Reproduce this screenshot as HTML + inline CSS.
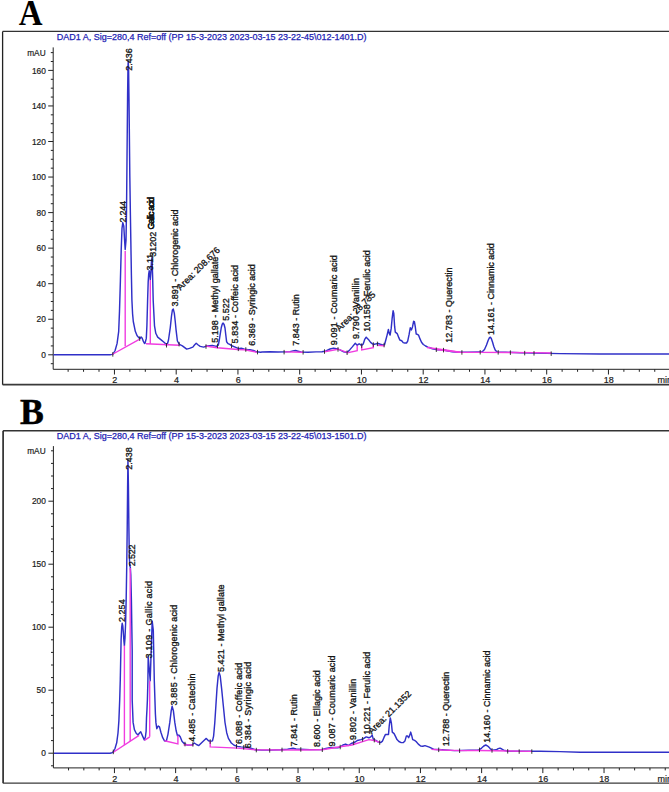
<!DOCTYPE html>
<html><head><meta charset="utf-8"><style>
html,body{margin:0;padding:0;background:#fff;width:669px;height:792px;overflow:hidden}
svg{position:absolute;left:0;top:0}
.ttl{font-family:"Liberation Sans",sans-serif;font-size:9px;fill:#2222b4;stroke:#2222b4;stroke-width:0.25}
.lab{font-family:"Liberation Sans",sans-serif;font-size:9px;fill:#1a1a1a;stroke:#1a1a1a;stroke-width:0.2}
.cur{fill:none;stroke:#3030c8;stroke-width:1.45;stroke-linejoin:round}
.mag{fill:none;stroke:#f03ce0;stroke-width:1.4}
.tk{stroke:#222;stroke-width:0.9}
.pl{font-family:"Liberation Sans",sans-serif;font-size:9px;fill:#141414;stroke:#141414;stroke-width:0.32}
.big{font-family:"Liberation Serif",serif;font-weight:bold;font-size:36px;fill:#000}
</style></head><body>
<svg width="669" height="792" viewBox="0 0 669 792">
<text transform="translate(18.8,24.7) scale(0.915,1)" class="big">A</text>
<text transform="translate(19.9,423.6) scale(0.99,1)" class="big" stroke="#000" stroke-width="0.5">B</text>
<line x1="2.6" y1="31.4" x2="674" y2="31.4" stroke="#333" stroke-width="1.4"/>
<line x1="2.6" y1="31.4" x2="2.6" y2="384.7" stroke="#222" stroke-width="1.3"/>
<line x1="2.6" y1="384.7" x2="674" y2="384.7" stroke="#3a3a3a" stroke-width="1.8"/>
<text x="56.7" y="39.7" class="ttl">DAD1 A, Sig=280,4 Ref=off (PP 15-3-2023 2023-03-15 23-22-45\012-1401.D)</text>
<line x1="53.2" y1="47.4" x2="53.2" y2="369.3" stroke="#222" stroke-width="1"/>
<line x1="53.2" y1="369.3" x2="674" y2="369.3" stroke="#222" stroke-width="1"/>
<line x1="50.800000000000004" y1="363.69" x2="53.2" y2="363.69" stroke="#222" stroke-width="1"/>
<line x1="48.2" y1="354.8" x2="53.2" y2="354.8" stroke="#222" stroke-width="1"/>
<text transform="translate(45.9,358) scale(0.93,1)" class="lab" text-anchor="end">0</text>
<line x1="50.800000000000004" y1="345.91" x2="53.2" y2="345.91" stroke="#222" stroke-width="1"/>
<line x1="50.800000000000004" y1="337.03" x2="53.2" y2="337.03" stroke="#222" stroke-width="1"/>
<line x1="50.800000000000004" y1="328.14" x2="53.2" y2="328.14" stroke="#222" stroke-width="1"/>
<line x1="48.2" y1="319.25" x2="53.2" y2="319.25" stroke="#222" stroke-width="1"/>
<text transform="translate(45.9,322.45) scale(0.93,1)" class="lab" text-anchor="end">20</text>
<line x1="50.800000000000004" y1="310.36" x2="53.2" y2="310.36" stroke="#222" stroke-width="1"/>
<line x1="50.800000000000004" y1="301.48" x2="53.2" y2="301.48" stroke="#222" stroke-width="1"/>
<line x1="50.800000000000004" y1="292.59" x2="53.2" y2="292.59" stroke="#222" stroke-width="1"/>
<line x1="48.2" y1="283.7" x2="53.2" y2="283.7" stroke="#222" stroke-width="1"/>
<text transform="translate(45.9,286.9) scale(0.93,1)" class="lab" text-anchor="end">40</text>
<line x1="50.800000000000004" y1="274.81" x2="53.2" y2="274.81" stroke="#222" stroke-width="1"/>
<line x1="50.800000000000004" y1="265.93" x2="53.2" y2="265.93" stroke="#222" stroke-width="1"/>
<line x1="50.800000000000004" y1="257.04" x2="53.2" y2="257.04" stroke="#222" stroke-width="1"/>
<line x1="48.2" y1="248.15" x2="53.2" y2="248.15" stroke="#222" stroke-width="1"/>
<text transform="translate(45.9,251.35) scale(0.93,1)" class="lab" text-anchor="end">60</text>
<line x1="50.800000000000004" y1="239.26" x2="53.2" y2="239.26" stroke="#222" stroke-width="1"/>
<line x1="50.800000000000004" y1="230.38" x2="53.2" y2="230.38" stroke="#222" stroke-width="1"/>
<line x1="50.800000000000004" y1="221.49" x2="53.2" y2="221.49" stroke="#222" stroke-width="1"/>
<line x1="48.2" y1="212.6" x2="53.2" y2="212.6" stroke="#222" stroke-width="1"/>
<text transform="translate(45.9,215.8) scale(0.93,1)" class="lab" text-anchor="end">80</text>
<line x1="50.800000000000004" y1="203.71" x2="53.2" y2="203.71" stroke="#222" stroke-width="1"/>
<line x1="50.800000000000004" y1="194.83" x2="53.2" y2="194.83" stroke="#222" stroke-width="1"/>
<line x1="50.800000000000004" y1="185.94" x2="53.2" y2="185.94" stroke="#222" stroke-width="1"/>
<line x1="48.2" y1="177.05" x2="53.2" y2="177.05" stroke="#222" stroke-width="1"/>
<text transform="translate(45.9,180.25) scale(0.93,1)" class="lab" text-anchor="end">100</text>
<line x1="50.800000000000004" y1="168.16" x2="53.2" y2="168.16" stroke="#222" stroke-width="1"/>
<line x1="50.800000000000004" y1="159.28" x2="53.2" y2="159.28" stroke="#222" stroke-width="1"/>
<line x1="50.800000000000004" y1="150.39" x2="53.2" y2="150.39" stroke="#222" stroke-width="1"/>
<line x1="48.2" y1="141.5" x2="53.2" y2="141.5" stroke="#222" stroke-width="1"/>
<text transform="translate(45.9,144.7) scale(0.93,1)" class="lab" text-anchor="end">120</text>
<line x1="50.800000000000004" y1="132.61" x2="53.2" y2="132.61" stroke="#222" stroke-width="1"/>
<line x1="50.800000000000004" y1="123.72" x2="53.2" y2="123.72" stroke="#222" stroke-width="1"/>
<line x1="50.800000000000004" y1="114.84" x2="53.2" y2="114.84" stroke="#222" stroke-width="1"/>
<line x1="48.2" y1="105.95" x2="53.2" y2="105.95" stroke="#222" stroke-width="1"/>
<text transform="translate(45.9,109.15) scale(0.93,1)" class="lab" text-anchor="end">140</text>
<line x1="50.800000000000004" y1="97.06" x2="53.2" y2="97.06" stroke="#222" stroke-width="1"/>
<line x1="50.800000000000004" y1="88.18" x2="53.2" y2="88.18" stroke="#222" stroke-width="1"/>
<line x1="50.800000000000004" y1="79.29" x2="53.2" y2="79.29" stroke="#222" stroke-width="1"/>
<line x1="48.2" y1="70.4" x2="53.2" y2="70.4" stroke="#222" stroke-width="1"/>
<text transform="translate(45.9,73.6) scale(0.93,1)" class="lab" text-anchor="end">160</text>
<line x1="50.800000000000004" y1="61.51" x2="53.2" y2="61.51" stroke="#222" stroke-width="1"/>
<line x1="50.800000000000004" y1="52.62" x2="53.2" y2="52.62" stroke="#222" stroke-width="1"/>
<text transform="translate(45.6,55.83) scale(0.92,1)" class="lab" text-anchor="end">mAU</text>
<line x1="68.13" y1="369.3" x2="68.13" y2="371.8" stroke="#222" stroke-width="1"/>
<line x1="83.56" y1="369.3" x2="83.56" y2="371.8" stroke="#222" stroke-width="1"/>
<line x1="99" y1="369.3" x2="99" y2="371.8" stroke="#222" stroke-width="1"/>
<line x1="114.44" y1="369.3" x2="114.44" y2="374.5" stroke="#222" stroke-width="1"/>
<text x="114.74" y="382.6" class="lab" text-anchor="middle">2</text>
<line x1="129.88" y1="369.3" x2="129.88" y2="371.8" stroke="#222" stroke-width="1"/>
<line x1="145.31" y1="369.3" x2="145.31" y2="371.8" stroke="#222" stroke-width="1"/>
<line x1="160.75" y1="369.3" x2="160.75" y2="371.8" stroke="#222" stroke-width="1"/>
<line x1="176.19" y1="369.3" x2="176.19" y2="374.5" stroke="#222" stroke-width="1"/>
<text x="176.49" y="382.6" class="lab" text-anchor="middle">4</text>
<line x1="191.63" y1="369.3" x2="191.63" y2="371.8" stroke="#222" stroke-width="1"/>
<line x1="207.06" y1="369.3" x2="207.06" y2="371.8" stroke="#222" stroke-width="1"/>
<line x1="222.5" y1="369.3" x2="222.5" y2="371.8" stroke="#222" stroke-width="1"/>
<line x1="237.94" y1="369.3" x2="237.94" y2="374.5" stroke="#222" stroke-width="1"/>
<text x="238.24" y="382.6" class="lab" text-anchor="middle">6</text>
<line x1="253.38" y1="369.3" x2="253.38" y2="371.8" stroke="#222" stroke-width="1"/>
<line x1="268.81" y1="369.3" x2="268.81" y2="371.8" stroke="#222" stroke-width="1"/>
<line x1="284.25" y1="369.3" x2="284.25" y2="371.8" stroke="#222" stroke-width="1"/>
<line x1="299.69" y1="369.3" x2="299.69" y2="374.5" stroke="#222" stroke-width="1"/>
<text x="299.99" y="382.6" class="lab" text-anchor="middle">8</text>
<line x1="315.13" y1="369.3" x2="315.13" y2="371.8" stroke="#222" stroke-width="1"/>
<line x1="330.56" y1="369.3" x2="330.56" y2="371.8" stroke="#222" stroke-width="1"/>
<line x1="346" y1="369.3" x2="346" y2="371.8" stroke="#222" stroke-width="1"/>
<line x1="361.44" y1="369.3" x2="361.44" y2="374.5" stroke="#222" stroke-width="1"/>
<text x="361.74" y="382.6" class="lab" text-anchor="middle">10</text>
<line x1="376.88" y1="369.3" x2="376.88" y2="371.8" stroke="#222" stroke-width="1"/>
<line x1="392.31" y1="369.3" x2="392.31" y2="371.8" stroke="#222" stroke-width="1"/>
<line x1="407.75" y1="369.3" x2="407.75" y2="371.8" stroke="#222" stroke-width="1"/>
<line x1="423.19" y1="369.3" x2="423.19" y2="374.5" stroke="#222" stroke-width="1"/>
<text x="423.49" y="382.6" class="lab" text-anchor="middle">12</text>
<line x1="438.63" y1="369.3" x2="438.63" y2="371.8" stroke="#222" stroke-width="1"/>
<line x1="454.06" y1="369.3" x2="454.06" y2="371.8" stroke="#222" stroke-width="1"/>
<line x1="469.5" y1="369.3" x2="469.5" y2="371.8" stroke="#222" stroke-width="1"/>
<line x1="484.94" y1="369.3" x2="484.94" y2="374.5" stroke="#222" stroke-width="1"/>
<text x="485.24" y="382.6" class="lab" text-anchor="middle">14</text>
<line x1="500.38" y1="369.3" x2="500.38" y2="371.8" stroke="#222" stroke-width="1"/>
<line x1="515.82" y1="369.3" x2="515.82" y2="371.8" stroke="#222" stroke-width="1"/>
<line x1="531.25" y1="369.3" x2="531.25" y2="371.8" stroke="#222" stroke-width="1"/>
<line x1="546.69" y1="369.3" x2="546.69" y2="374.5" stroke="#222" stroke-width="1"/>
<text x="546.99" y="382.6" class="lab" text-anchor="middle">16</text>
<line x1="562.13" y1="369.3" x2="562.13" y2="371.8" stroke="#222" stroke-width="1"/>
<line x1="577.57" y1="369.3" x2="577.57" y2="371.8" stroke="#222" stroke-width="1"/>
<line x1="593" y1="369.3" x2="593" y2="371.8" stroke="#222" stroke-width="1"/>
<line x1="608.44" y1="369.3" x2="608.44" y2="374.5" stroke="#222" stroke-width="1"/>
<text x="608.74" y="382.6" class="lab" text-anchor="middle">18</text>
<line x1="623.88" y1="369.3" x2="623.88" y2="371.8" stroke="#222" stroke-width="1"/>
<line x1="639.32" y1="369.3" x2="639.32" y2="371.8" stroke="#222" stroke-width="1"/>
<line x1="654.75" y1="369.3" x2="654.75" y2="371.8" stroke="#222" stroke-width="1"/>
<line x1="670.19" y1="369.3" x2="670.19" y2="371.8" stroke="#222" stroke-width="1"/>
<text x="657.4" y="382.6" class="lab">min</text>
<line x1="3.1" y1="430.7" x2="674" y2="430.7" stroke="#333" stroke-width="1.6"/>
<line x1="3.1" y1="430.7" x2="3.1" y2="783.2" stroke="#222" stroke-width="1.6"/>
<line x1="3.1" y1="783.2" x2="674" y2="783.2" stroke="#3a3a3a" stroke-width="1.3"/>
<text x="56.7" y="438.8" class="ttl">DAD1 A, Sig=280,4 Ref=off (PP 15-3-2023 2023-03-15 23-22-45\013-1501.D)</text>
<line x1="53.4" y1="446.1" x2="53.4" y2="767.9" stroke="#222" stroke-width="1"/>
<line x1="53.4" y1="767.9" x2="674" y2="767.9" stroke="#222" stroke-width="1"/>
<line x1="51.0" y1="765.8" x2="53.4" y2="765.8" stroke="#222" stroke-width="1"/>
<line x1="48.4" y1="753.2" x2="53.4" y2="753.2" stroke="#222" stroke-width="1"/>
<text transform="translate(45.9,756.4) scale(0.93,1)" class="lab" text-anchor="end">0</text>
<line x1="51.0" y1="740.6" x2="53.4" y2="740.6" stroke="#222" stroke-width="1"/>
<line x1="51.0" y1="728" x2="53.4" y2="728" stroke="#222" stroke-width="1"/>
<line x1="51.0" y1="715.4" x2="53.4" y2="715.4" stroke="#222" stroke-width="1"/>
<line x1="51.0" y1="702.8" x2="53.4" y2="702.8" stroke="#222" stroke-width="1"/>
<line x1="48.4" y1="690.2" x2="53.4" y2="690.2" stroke="#222" stroke-width="1"/>
<text transform="translate(45.9,693.4) scale(0.93,1)" class="lab" text-anchor="end">50</text>
<line x1="51.0" y1="677.6" x2="53.4" y2="677.6" stroke="#222" stroke-width="1"/>
<line x1="51.0" y1="665" x2="53.4" y2="665" stroke="#222" stroke-width="1"/>
<line x1="51.0" y1="652.4" x2="53.4" y2="652.4" stroke="#222" stroke-width="1"/>
<line x1="51.0" y1="639.8" x2="53.4" y2="639.8" stroke="#222" stroke-width="1"/>
<line x1="48.4" y1="627.2" x2="53.4" y2="627.2" stroke="#222" stroke-width="1"/>
<text transform="translate(45.9,630.4) scale(0.93,1)" class="lab" text-anchor="end">100</text>
<line x1="51.0" y1="614.6" x2="53.4" y2="614.6" stroke="#222" stroke-width="1"/>
<line x1="51.0" y1="602" x2="53.4" y2="602" stroke="#222" stroke-width="1"/>
<line x1="51.0" y1="589.4" x2="53.4" y2="589.4" stroke="#222" stroke-width="1"/>
<line x1="51.0" y1="576.8" x2="53.4" y2="576.8" stroke="#222" stroke-width="1"/>
<line x1="48.4" y1="564.2" x2="53.4" y2="564.2" stroke="#222" stroke-width="1"/>
<text transform="translate(45.9,567.4) scale(0.93,1)" class="lab" text-anchor="end">150</text>
<line x1="51.0" y1="551.6" x2="53.4" y2="551.6" stroke="#222" stroke-width="1"/>
<line x1="51.0" y1="539" x2="53.4" y2="539" stroke="#222" stroke-width="1"/>
<line x1="51.0" y1="526.4" x2="53.4" y2="526.4" stroke="#222" stroke-width="1"/>
<line x1="51.0" y1="513.8" x2="53.4" y2="513.8" stroke="#222" stroke-width="1"/>
<line x1="48.4" y1="501.2" x2="53.4" y2="501.2" stroke="#222" stroke-width="1"/>
<text transform="translate(45.9,504.4) scale(0.93,1)" class="lab" text-anchor="end">200</text>
<line x1="51.0" y1="488.6" x2="53.4" y2="488.6" stroke="#222" stroke-width="1"/>
<line x1="51.0" y1="476" x2="53.4" y2="476" stroke="#222" stroke-width="1"/>
<line x1="51.0" y1="463.4" x2="53.4" y2="463.4" stroke="#222" stroke-width="1"/>
<line x1="51.0" y1="450.8" x2="53.4" y2="450.8" stroke="#222" stroke-width="1"/>
<text transform="translate(45.6,454) scale(0.92,1)" class="lab" text-anchor="end">mAU</text>
<line x1="68.54" y1="767.9" x2="68.54" y2="770.4" stroke="#222" stroke-width="1"/>
<line x1="83.84" y1="767.9" x2="83.84" y2="770.4" stroke="#222" stroke-width="1"/>
<line x1="99.14" y1="767.9" x2="99.14" y2="770.4" stroke="#222" stroke-width="1"/>
<line x1="114.44" y1="767.9" x2="114.44" y2="773.1" stroke="#222" stroke-width="1"/>
<text x="114.74" y="781.8" class="lab" text-anchor="middle">2</text>
<line x1="129.74" y1="767.9" x2="129.74" y2="770.4" stroke="#222" stroke-width="1"/>
<line x1="145.04" y1="767.9" x2="145.04" y2="770.4" stroke="#222" stroke-width="1"/>
<line x1="160.34" y1="767.9" x2="160.34" y2="770.4" stroke="#222" stroke-width="1"/>
<line x1="175.64" y1="767.9" x2="175.64" y2="773.1" stroke="#222" stroke-width="1"/>
<text x="175.94" y="781.8" class="lab" text-anchor="middle">4</text>
<line x1="190.94" y1="767.9" x2="190.94" y2="770.4" stroke="#222" stroke-width="1"/>
<line x1="206.24" y1="767.9" x2="206.24" y2="770.4" stroke="#222" stroke-width="1"/>
<line x1="221.54" y1="767.9" x2="221.54" y2="770.4" stroke="#222" stroke-width="1"/>
<line x1="236.84" y1="767.9" x2="236.84" y2="773.1" stroke="#222" stroke-width="1"/>
<text x="237.14" y="781.8" class="lab" text-anchor="middle">6</text>
<line x1="252.14" y1="767.9" x2="252.14" y2="770.4" stroke="#222" stroke-width="1"/>
<line x1="267.44" y1="767.9" x2="267.44" y2="770.4" stroke="#222" stroke-width="1"/>
<line x1="282.74" y1="767.9" x2="282.74" y2="770.4" stroke="#222" stroke-width="1"/>
<line x1="298.04" y1="767.9" x2="298.04" y2="773.1" stroke="#222" stroke-width="1"/>
<text x="298.34" y="781.8" class="lab" text-anchor="middle">8</text>
<line x1="313.34" y1="767.9" x2="313.34" y2="770.4" stroke="#222" stroke-width="1"/>
<line x1="328.64" y1="767.9" x2="328.64" y2="770.4" stroke="#222" stroke-width="1"/>
<line x1="343.94" y1="767.9" x2="343.94" y2="770.4" stroke="#222" stroke-width="1"/>
<line x1="359.24" y1="767.9" x2="359.24" y2="773.1" stroke="#222" stroke-width="1"/>
<text x="359.54" y="781.8" class="lab" text-anchor="middle">10</text>
<line x1="374.54" y1="767.9" x2="374.54" y2="770.4" stroke="#222" stroke-width="1"/>
<line x1="389.84" y1="767.9" x2="389.84" y2="770.4" stroke="#222" stroke-width="1"/>
<line x1="405.14" y1="767.9" x2="405.14" y2="770.4" stroke="#222" stroke-width="1"/>
<line x1="420.44" y1="767.9" x2="420.44" y2="773.1" stroke="#222" stroke-width="1"/>
<text x="420.74" y="781.8" class="lab" text-anchor="middle">12</text>
<line x1="435.74" y1="767.9" x2="435.74" y2="770.4" stroke="#222" stroke-width="1"/>
<line x1="451.04" y1="767.9" x2="451.04" y2="770.4" stroke="#222" stroke-width="1"/>
<line x1="466.34" y1="767.9" x2="466.34" y2="770.4" stroke="#222" stroke-width="1"/>
<line x1="481.64" y1="767.9" x2="481.64" y2="773.1" stroke="#222" stroke-width="1"/>
<text x="481.94" y="781.8" class="lab" text-anchor="middle">14</text>
<line x1="496.94" y1="767.9" x2="496.94" y2="770.4" stroke="#222" stroke-width="1"/>
<line x1="512.24" y1="767.9" x2="512.24" y2="770.4" stroke="#222" stroke-width="1"/>
<line x1="527.54" y1="767.9" x2="527.54" y2="770.4" stroke="#222" stroke-width="1"/>
<line x1="542.84" y1="767.9" x2="542.84" y2="773.1" stroke="#222" stroke-width="1"/>
<text x="543.14" y="781.8" class="lab" text-anchor="middle">16</text>
<line x1="558.14" y1="767.9" x2="558.14" y2="770.4" stroke="#222" stroke-width="1"/>
<line x1="573.44" y1="767.9" x2="573.44" y2="770.4" stroke="#222" stroke-width="1"/>
<line x1="588.74" y1="767.9" x2="588.74" y2="770.4" stroke="#222" stroke-width="1"/>
<line x1="604.04" y1="767.9" x2="604.04" y2="773.1" stroke="#222" stroke-width="1"/>
<text x="604.34" y="781.8" class="lab" text-anchor="middle">18</text>
<line x1="619.34" y1="767.9" x2="619.34" y2="770.4" stroke="#222" stroke-width="1"/>
<line x1="634.64" y1="767.9" x2="634.64" y2="770.4" stroke="#222" stroke-width="1"/>
<line x1="649.94" y1="767.9" x2="649.94" y2="770.4" stroke="#222" stroke-width="1"/>
<line x1="665.24" y1="767.9" x2="665.24" y2="770.4" stroke="#222" stroke-width="1"/>
<text x="657.4" y="781.8" class="lab">min</text>
<polyline points="53.5,354.8 110,354.8 112.1,354.4 113.1,354 115.1,350.5 117.1,343.4 118.7,331.3 119.5,311.1 120.4,280.8 121.2,250.5 122,228.3 122.8,222.6 123.8,226.3 124.6,240.4 125.2,249.5 126,240.4 126.5,212 127,160 127.6,95 128,66 128.25,61.3 128.6,70 129,100 129.3,128 129.8,175 130.4,215 130.9,245 131.4,275 131.9,300 132.6,314 133.3,321.5 135.3,331.3 137,335.5 138.5,337.4 140,338.6 141.2,337 142.2,338.2 143.4,341.4 144.5,343.5 145,343.4 146.3,338.4 146.9,325.8 147.6,300.5 148.2,281.6 148.7,274 149.2,270.8 149.7,273 150.3,279.7 150.9,272 151.5,261 152,257.6 152.6,275.3 153.2,300.5 154.5,325.8 155.8,333.3 157.7,337.1 160.8,339.6 164,342.2 165.9,344.1 166.3,345.3 167.5,343.5 168.5,340 170.3,327.3 171.5,316 172.4,310 173.3,309.1 174.3,313.1 175.2,321 176,329.3 177.4,341 179.4,344.4 182.4,345.8 186.7,349.1 189.5,348.4 192.8,347.1 194.5,345 196.2,343.3 198.2,345 200.2,346.4 203.6,347.1 206.9,346 209.5,345.6 212.3,345.5 214.5,345.9 216.3,346.4 218.3,345.2 219.3,340 220.3,333.6 221.3,327.5 222.3,324 223.1,323.1 224.1,324.5 225,328 225.8,335 226.6,341.7 228,343.6 229.8,344.4 231.8,345.8 235.2,347.1 238.5,348.7 241.2,348.2 244.6,349.1 247.3,349.5 250,349.8 253.4,350.5 256.7,351.8 260.8,352.2 262,352 270,351.8 278,352 285,351.9 290,351.6 293,350.9 295.5,350.5 298,351.2 301,352 308,352.2 316,351.9 322,351.8 326,351 330,349 333.5,348.1 336.5,348.6 340,349.9 343.7,351.8 347.1,352.5 349.7,349.9 352.3,346.9 355.3,343.2 357.2,345.4 358.3,344.3 359.4,343.9 360.9,345 361.7,345.4 363.2,343.9 364.7,339.4 366.2,337.2 368.4,339.4 370.6,342.4 372.9,344.3 374.4,344.3 375.9,343.9 378.1,343.5 380.4,344.3 382.6,345 384.5,344.8 385.6,340.7 387.1,335.1 388.4,329.5 389.1,332.9 390.1,335.1 391.2,328.4 392.1,318.7 393.1,310.8 393.8,313.5 394.6,326.2 395.3,332.1 397.2,333.6 398.7,337.4 399.8,340 401.7,340.7 403.2,342.6 404.7,343 406.5,343 407.7,341.1 409.1,334.4 410.3,327.7 411.4,329.9 412.5,326.9 413.6,321.3 414.4,321.7 415.3,326.9 416.2,334 417.4,334.4 418.5,335.1 420,338.9 421.5,342.2 423.3,344.5 425.6,346 427.8,347.1 430,347.8 432.3,348.7 437.5,349.7 442.8,349.7 446.9,350.8 452.2,351.8 459.5,352.2 467.9,352.2 480.4,352 482,352 484.5,349.5 486.5,345 488.3,340 489.5,337.6 490.3,337.2 491.3,338.5 492.5,342 493.8,346.5 495.2,350 496.6,351.6 498.2,352.1 505.5,352.2 520,352.8 560,353.6 600,354 640,354 669,354.1" class="cur"/>
<polyline points="112.1,354.5 139.3,339.4" class="mag"/>
<polyline points="125.2,251 125.2,346.2" class="mag"/>
<polyline points="146,343.8 179.4,345.2" class="mag"/>
<polyline points="150.3,280 150.3,343.9" class="mag"/>
<polyline points="205.6,346 217,347.8 237.9,349.5 244.6,349.8 256.7,352.2" class="mag"/>
<polyline points="285,351.9 303,352.2" class="mag"/>
<polyline points="324.5,351.8 338,349.2 347,352.4" class="mag"/>
<polyline points="347.1,352.9 357.2,350.6 357.2,345.6" class="mag"/>
<polyline points="361.7,345.6 361.7,349.9 373.3,347.7 373.3,344.5" class="mag"/>
<polyline points="377.4,345.4 384.5,345.8" class="mag"/>
<polyline points="427,347.5 447,350.3 460,352.2" class="mag"/>
<polyline points="436.3,349.5 460,352.2 480.2,352.4 534,352.6 551.2,353" class="mag"/>
<line x1="112.8" y1="352.12" x2="112.8" y2="356.62" class="tk"/>
<line x1="139.7" y1="336.36" x2="139.7" y2="340.86" class="tk"/>
<line x1="166.5" y1="343" x2="166.5" y2="347.5" class="tk"/>
<line x1="179.1" y1="341.89" x2="179.1" y2="346.39" class="tk"/>
<line x1="206" y1="344.3" x2="206" y2="348.8" class="tk"/>
<line x1="217.5" y1="343.68" x2="217.5" y2="348.18" class="tk"/>
<line x1="231.5" y1="343.59" x2="231.5" y2="348.09" class="tk"/>
<line x1="238.3" y1="346.6" x2="238.3" y2="351.1" class="tk"/>
<line x1="245.8" y1="347.28" x2="245.8" y2="351.78" class="tk"/>
<line x1="257.5" y1="349.88" x2="257.5" y2="354.38" class="tk"/>
<line x1="284.1" y1="349.91" x2="284.1" y2="354.41" class="tk"/>
<line x1="303.1" y1="350.06" x2="303.1" y2="354.56" class="tk"/>
<line x1="324.5" y1="349.3" x2="324.5" y2="353.8" class="tk"/>
<line x1="338" y1="347.16" x2="338" y2="351.66" class="tk"/>
<line x1="347.1" y1="350.5" x2="347.1" y2="355" class="tk"/>
<line x1="361.7" y1="343.4" x2="361.7" y2="347.9" class="tk"/>
<line x1="373.3" y1="342.3" x2="373.3" y2="346.8" class="tk"/>
<line x1="377.4" y1="341.63" x2="377.4" y2="346.13" class="tk"/>
<line x1="384.1" y1="342.84" x2="384.1" y2="347.34" class="tk"/>
<line x1="436.3" y1="347.47" x2="436.3" y2="351.97" class="tk"/>
<line x1="443.5" y1="347.89" x2="443.5" y2="352.39" class="tk"/>
<line x1="461.9" y1="350.2" x2="461.9" y2="354.7" class="tk"/>
<line x1="480.2" y1="350" x2="480.2" y2="354.5" class="tk"/>
<line x1="498.2" y1="350.1" x2="498.2" y2="354.6" class="tk"/>
<line x1="510.4" y1="350.4" x2="510.4" y2="354.9" class="tk"/>
<line x1="524.7" y1="350.89" x2="524.7" y2="355.39" class="tk"/>
<line x1="534" y1="351.08" x2="534" y2="355.58" class="tk"/>
<line x1="551.2" y1="351.42" x2="551.2" y2="355.92" class="tk"/>
<text transform="translate(131.6,70.8) rotate(-90)" class="pl" textLength="22.5" lengthAdjust="spacing">2.436</text>
<text transform="translate(125.5,222.4) rotate(-90)" class="pl" textLength="21.3" lengthAdjust="spacing">2.244</text>
<text transform="translate(153.3,270.5) rotate(-90)" class="pl">3.11</text>
<text transform="translate(155.9,256.7) rotate(-90)" class="pl">31202</text>
<text transform="translate(177.85,306.6) rotate(-90)" class="pl" textLength="97.1" lengthAdjust="spacing">3.891 - Chlorogenic acid</text>
<text transform="translate(217.5,342.8) rotate(-90)" class="pl">5.198 - Methyl gallate</text>
<text transform="translate(229.1,320.7) rotate(-90)" class="pl">5.522</text>
<text transform="translate(238.2,343.4) rotate(-90)" class="pl" textLength="78.4" lengthAdjust="spacing">5.834 - Coffeic acid</text>
<text transform="translate(255,345.7) rotate(-90)" class="pl" textLength="81.4" lengthAdjust="spacing">6.369 - Syringic acid</text>
<text transform="translate(298.6,345.8) rotate(-90)" class="pl" textLength="51.6" lengthAdjust="spacing">7.843 - Rutin</text>
<text transform="translate(336.6,345.2) rotate(-90)" class="pl" textLength="90" lengthAdjust="spacing">9.091 - Coumaric acid</text>
<text transform="translate(358.6,339.1) rotate(-90)" class="pl" textLength="61" lengthAdjust="spacing">9.790 - Vanillin</text>
<text transform="translate(369.7,331.7) rotate(-90)" class="pl">10.158 - Ferulic acid</text>
<text transform="translate(452,342.8) rotate(-90)" class="pl" textLength="75.3" lengthAdjust="spacing">12.783 - Querectin</text>
<text transform="translate(494.3,334.9) rotate(-90)" class="pl" textLength="91.7" lengthAdjust="spacing">14.161 - Cinnamic acid</text>
<text transform="translate(153.7,229.5) rotate(-90)" class="pl" letter-spacing="-0.9">Gallic acid</text>
<text transform="translate(154.05,229.5) rotate(-90)" class="pl" letter-spacing="-0.9">Gallic acid</text>
<text transform="translate(180.6,290.7) rotate(-45)" class="pl">Area: 208.676</text>
<text transform="translate(339.6,331.7) rotate(-45)" class="pl">Area: 28.735</text>
<polyline points="54,753.2 110,753.2 112,752.8 113.5,751.5 115,748.5 116.7,742.8 118,733 118.9,720.6 119.7,700 120.3,679 121.1,640 121.7,627 122.2,623.3 122.8,626 123.3,631.7 124,642 124.4,645.6 125,638 125.6,623.3 126.2,598 126.7,568 127.2,530 127.6,488 127.95,460 128.4,484 128.9,528 129.3,556 129.8,566 130.3,567 130.8,575 131.4,600 132.2,651 132.2,700 133.1,722.4 134.4,729.6 136.2,733.2 138,735 139.5,733 140.7,731.8 142.5,735.9 144.3,739.9 145.4,737 146.1,731.4 146.5,717.9 147,709 147.4,700 147.9,680.8 148.2,656.6 149.2,668.7 150.2,680.8 151.2,650.5 152.2,621.2 153.3,630.3 154.3,680.8 155.4,714 155.9,722.4 156.8,728.7 158.2,726 159.5,726.9 160.9,732.3 162.7,737.7 164.5,740.8 166.3,741.3 168,734.1 169.8,722.4 171.2,710.8 172.1,706.3 173.4,710.8 174.8,722.4 176.1,730.5 177.5,735.9 178.8,735 180.2,736.8 182,741.3 183.6,743 187.2,745.1 191.7,745.1 194.3,743 196.5,744.5 198.8,745.6 202.4,742 204.5,740 206.3,738.4 208.5,740.7 210.2,741.3 212.5,740.9 213.6,736.1 214.8,722.5 215.9,705.5 217,688.4 218.2,675.9 219.1,672.5 220.2,675.9 221.6,688.4 223.3,705.5 225,722.5 226.7,732.7 228.4,738.4 231.3,743 234.1,745.2 237.5,746.4 241,746.9 246.4,747.4 250.9,748.3 255.3,749.8 262,750.1 269.7,750.1 280.5,749.8 287.6,749.2 290.5,748.6 293,748.3 296,749 300,749.2 310,749.6 322.3,749.5 326,748.5 329.5,747.7 334,747.5 338.4,747.7 340.8,746.5 342.9,745 345.6,744.1 348.3,745.5 351.9,743.2 354.6,742.3 357.3,740.5 360.9,739.6 363.5,738.7 366.2,736.9 368.9,737.8 370.7,736.9 372.2,735.1 373.4,739.6 376.1,740.5 378,741.9 380.6,742.6 382.5,741.1 384,737.4 385.5,734.4 387.3,734.4 388.5,734.4 389.2,726.2 390.3,717.9 391.4,723.2 392.3,732.1 394.1,733.6 395.6,736.6 397,739.6 398.9,741.5 401.2,742.6 403.4,742.6 404.9,741.1 406.4,735.9 407.5,735.9 408.6,737.7 409.8,735.1 410.7,732.1 411.6,735.1 412.7,739.6 414.6,740.4 416.1,741.5 418.3,744.1 420.6,746 422.8,746.3 425,745.6 429.3,747.1 433.5,749.2 441.8,749.8 454.4,750.6 469,750.2 477.4,750.2 479.5,749.6 481.6,748.1 483.8,746 485.8,745 487.3,745.8 488.9,747.1 490.5,749 492,750.2 496.2,749.8 498.2,748.6 500,748.1 501.8,749 503.6,750.2 508.8,751.3 540,751.3 560,751.6 580,752.3 669,752.3" class="cur"/>
<polyline points="113,752.5 139.1,735.4" class="mag"/>
<polyline points="124.4,645.6 124.4,745" class="mag"/>
<polyline points="130.2,568 130.2,741.2" class="mag"/>
<polyline points="144.5,740.4 149.7,736.8" class="mag"/>
<polyline points="149.7,680.8 149.7,736.8" class="mag"/>
<polyline points="164.5,740.8 177.9,743.9 177.9,735.5" class="mag"/>
<polyline points="183.6,744.7 193.5,745.1" class="mag"/>
<polyline points="210.2,741.3 210.2,746.9 237.5,748.1 255.3,749.8 300,750 322,749.8" class="mag"/>
<polyline points="322.3,749.8 340.2,746.8 351.9,745 368.9,739.6 374.3,740.5 379.7,742.3" class="mag"/>
<polyline points="431.4,749.4 441.8,750 460,750.6 480,750.5 531.8,751.4" class="mag"/>
<line x1="113.3" y1="749.67" x2="113.3" y2="754.17" class="tk"/>
<line x1="185" y1="741.82" x2="185" y2="746.32" class="tk"/>
<line x1="192.9" y1="742.13" x2="192.9" y2="746.63" class="tk"/>
<line x1="210.2" y1="739.3" x2="210.2" y2="743.8" class="tk"/>
<line x1="236.5" y1="744.05" x2="236.5" y2="748.55" class="tk"/>
<line x1="243.7" y1="745.15" x2="243.7" y2="749.65" class="tk"/>
<line x1="256.3" y1="747.84" x2="256.3" y2="752.34" class="tk"/>
<line x1="269.7" y1="748.1" x2="269.7" y2="752.6" class="tk"/>
<line x1="282" y1="747.67" x2="282" y2="752.17" class="tk"/>
<line x1="300.8" y1="747.23" x2="300.8" y2="751.73" class="tk"/>
<line x1="322.3" y1="747.5" x2="322.3" y2="752" class="tk"/>
<line x1="340.2" y1="744.8" x2="340.2" y2="749.3" class="tk"/>
<line x1="353.7" y1="740.6" x2="353.7" y2="745.1" class="tk"/>
<line x1="362.6" y1="737.01" x2="362.6" y2="741.51" class="tk"/>
<line x1="374.3" y1="737.9" x2="374.3" y2="742.4" class="tk"/>
<line x1="379.7" y1="740.36" x2="379.7" y2="744.86" class="tk"/>
<line x1="438.7" y1="747.58" x2="438.7" y2="752.08" class="tk"/>
<line x1="459.6" y1="748.46" x2="459.6" y2="752.96" class="tk"/>
<line x1="479.5" y1="747.6" x2="479.5" y2="752.1" class="tk"/>
<line x1="492" y1="748.2" x2="492" y2="752.7" class="tk"/>
<line x1="507.7" y1="749.07" x2="507.7" y2="753.57" class="tk"/>
<line x1="519.2" y1="749.3" x2="519.2" y2="753.8" class="tk"/>
<line x1="531.8" y1="749.3" x2="531.8" y2="753.8" class="tk"/>
<text transform="translate(131.6,469.8) rotate(-90)" class="pl" textLength="22.5" lengthAdjust="spacing">2.438</text>
<text transform="translate(135,566.2) rotate(-90)" class="pl" textLength="21.8" lengthAdjust="spacing">2.522</text>
<text transform="translate(125.4,622) rotate(-90)" class="pl" textLength="22.7" lengthAdjust="spacing">2.254</text>
<text transform="translate(152.4,658.6) rotate(-90)" class="pl" textLength="77.6" lengthAdjust="spacing">3.109 - Gallic acid</text>
<text transform="translate(176.7,705.4) rotate(-90)" class="pl" textLength="100.6" lengthAdjust="spacing">3.885 - Chlorogenic acid</text>
<text transform="translate(194.9,741.8) rotate(-90)" class="pl" textLength="68.4" lengthAdjust="spacing">4.485 - Catechin</text>
<text transform="translate(223.8,672.1) rotate(-90)" class="pl" textLength="87.7" lengthAdjust="spacing">5.421 - Methyl gallate</text>
<text transform="translate(242.1,744) rotate(-90)" class="pl" textLength="81.3" lengthAdjust="spacing">6.088 - Coffeic acid</text>
<text transform="translate(251.2,748.3) rotate(-90)" class="pl" textLength="86.7" lengthAdjust="spacing">6.384 - Syringic acid</text>
<text transform="translate(297,746.4) rotate(-90)" class="pl" textLength="52.1" lengthAdjust="spacing">7.841 - Rutin</text>
<text transform="translate(319.6,747.1) rotate(-90)" class="pl" textLength="76.9" lengthAdjust="spacing">8.600 - Ellagic acid</text>
<text transform="translate(335.1,746.4) rotate(-90)" class="pl" textLength="91" lengthAdjust="spacing">9.087 - Coumaric acid</text>
<text transform="translate(356.4,740) rotate(-90)" class="pl" textLength="61.3" lengthAdjust="spacing">9.802 - Vanillin</text>
<text transform="translate(370.1,734.4) rotate(-90)" class="pl" textLength="82.6" lengthAdjust="spacing">10.221 - Ferulic acid</text>
<text transform="translate(448.7,746.3) rotate(-90)" class="pl" textLength="74.7" lengthAdjust="spacing">12.788 - Querectin</text>
<text transform="translate(489.6,742.7) rotate(-90)" class="pl" textLength="92.3" lengthAdjust="spacing">14.160 - Cinnamic acid</text>
<text transform="translate(371.8,734.5) rotate(-45)" class="pl">Area: 21.1352</text>
</svg>
</body></html>
